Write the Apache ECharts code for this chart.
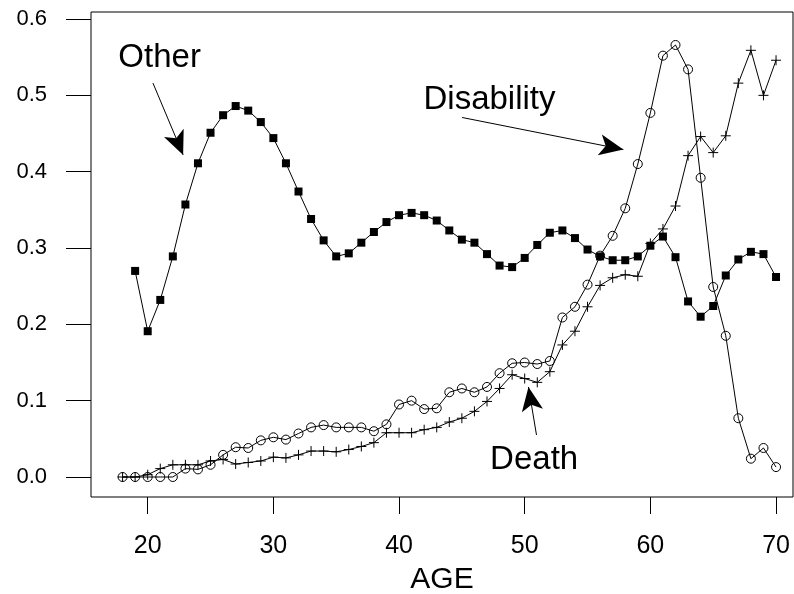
<!DOCTYPE html>
<html>
<head>
<meta charset="utf-8">
<script src="https://cdn.jsdelivr.net/npm/echarts@6/dist/echarts.min.js"></script>
<style>
  html, body { margin: 0; padding: 0; background: #fff; }
  #chart { width: 794px; height: 594px; }
</style>
</head>
<body>
<div id="chart"></div>
<script>
// Proportion of exits by cause, by age
const ages = [];
for (let a = 18; a <= 70; a++) ages.push(a);

// Other (filled squares), ages 19..70
const otherAges = ages.slice(1);
const otherVals = [
  0.270, 0.191, 0.232, 0.289, 0.357, 0.411, 0.451, 0.474, 0.486, 0.480,
  0.465, 0.444, 0.411, 0.374, 0.338, 0.310, 0.289, 0.293, 0.307, 0.321,
  0.334, 0.343, 0.346, 0.343, 0.336, 0.323, 0.311, 0.307, 0.292, 0.277,
  0.275, 0.287, 0.304, 0.320, 0.323, 0.313, 0.298, 0.289, 0.284, 0.284,
  0.289, 0.303, 0.315, 0.288, 0.230, 0.210, 0.224, 0.264, 0.285, 0.295,
  0.292, 0.262
];

// Disability (open circles), ages 18..70
const disabilityVals = [
  0.000, 0.000, 0.000, 0.000, 0.000, 0.011, 0.010, 0.016, 0.029, 0.039,
  0.038, 0.048, 0.052, 0.049, 0.057, 0.065, 0.068, 0.065, 0.065, 0.065,
  0.060, 0.069, 0.095, 0.100, 0.089, 0.090, 0.111, 0.116, 0.111, 0.118,
  0.136, 0.149, 0.150, 0.148, 0.152, 0.209, 0.223, 0.252, 0.290, 0.316,
  0.352, 0.410, 0.477, 0.552, 0.566, 0.534, 0.392, 0.249, 0.185, 0.077,
  0.024, 0.038, 0.013
];

// Death (plus signs), ages 18..70
const deathVals = [
  0.000, 0.000, 0.003, 0.011, 0.016, 0.016, 0.016, 0.021, 0.023, 0.017,
  0.019, 0.021, 0.026, 0.025, 0.029, 0.034, 0.034, 0.033, 0.036, 0.040,
  0.045, 0.058, 0.058, 0.058, 0.062, 0.065, 0.072, 0.077, 0.086, 0.099,
  0.116, 0.134, 0.129, 0.124, 0.138, 0.173, 0.191, 0.223, 0.251, 0.261,
  0.265, 0.263, 0.306, 0.325, 0.355, 0.421, 0.446, 0.425, 0.447, 0.516,
  0.559, 0.500, 0.546
];

const xTicks = [20, 30, 40, 50, 60, 70];
const yTicks = [0, 0.1, 0.2, 0.3, 0.4, 0.5, 0.6];

// Callout labels and their arrows, in data coordinates [age, proportion]
const callouts = [
  { text: 'Other',      at: [20.95, 0.549], from: [20.42, 0.516], to: [22.82, 0.422] },
  { text: 'Disability', at: [47.2, 0.494],  from: [45.02, 0.471], to: [57.85, 0.429] },
  { text: 'Death',      at: [50.75, 0.023], from: [50.94, 0.055], to: [50.30, 0.118] }
];

const pair = (xs, ys) => xs.map((x, i) => [x, ys[i]]);

const FONT = '"Liberation Sans", Arial, sans-serif';
const NARROW = '"Liberation Sans Narrow", "Arial Narrow", "Liberation Sans", sans-serif';

const chart = echarts.init(document.getElementById('chart'), null, { renderer: 'canvas' });

const lineBase = {
  type: 'line',
  smooth: false,
  lineStyle: { color: '#000', width: 1 },
  animation: false,
  emphasis: { disabled: true },
  silent: true
};

chart.setOption({
  backgroundColor: '#fff',
  animation: false,
  grid: {
    left: 91, right: 1, top: 12, bottom: 97,
    containLabel: false,
    outerBoundsMode: 'none',
    show: true, borderColor: '#000', borderWidth: 1, backgroundColor: 'transparent'
  },
  xAxis: {
    type: 'value',
    min: 15.488, max: 71.35,
    splitLine: { show: false },
    axisLine: { show: false, onZero: false },
    axisTick: { show: true, length: 17, lineStyle: { color: '#000', width: 1 }, customValues: xTicks },
    axisLabel: {
      show: true, customValues: xTicks, margin: 37,
      color: '#000', fontSize: 25, fontFamily: NARROW,
      formatter: v => String(v)
    },
    name: 'AGE',
    nameLocation: 'middle',
    nameGap: 68,
    nameTextStyle: { color: '#000', fontSize: 30, fontFamily: NARROW }
  },
  yAxis: {
    type: 'value',
    min: -0.0262, max: 0.6092,
    splitLine: { show: false },
    axisLine: { show: false, onZero: false },
    axisTick: { show: true, length: 25, lineStyle: { color: '#000', width: 1 }, customValues: yTicks },
    axisLabel: {
      show: true, customValues: yTicks, margin: 44,
      color: '#000', fontSize: 22, fontFamily: FONT,
      formatter: v => v.toFixed(1)
    }
  },
  series: [
    Object.assign({}, lineBase, {
      name: 'Other',
      data: pair(otherAges, otherVals),
      symbol: 'rect', symbolSize: 8,
      itemStyle: { color: '#000' }
    }),
    Object.assign({}, lineBase, {
      name: 'Disability',
      data: pair(ages, disabilityVals),
      symbol: 'circle', symbolSize: 9,
      itemStyle: { color: 'rgba(0,0,0,0)', borderColor: '#000', borderWidth: 1 }
    }),
    Object.assign({}, lineBase, {
      name: 'Death',
      data: pair(ages, deathVals),
      symbol: 'path://M5 0 L5 10 M0 5 L10 5', symbolSize: 10,
      itemStyle: { color: 'rgba(0,0,0,0)', borderColor: '#000', borderWidth: 1 }
    }),
    {
      type: 'line',
      name: 'callouts',
      data: [],
      silent: true,
      animation: false,
      markLine: {
        silent: true,
        animation: false,
        symbol: ['none', 'arrow'],
        symbolSize: [16, 24],
        label: { show: false },
        lineStyle: { color: '#000', width: 1, type: 'solid' },
        emphasis: { disabled: true },
        data: callouts.map(c => [{ coord: c.from }, { coord: c.to }])
      },
      markPoint: {
        silent: true,
        animation: false,
        symbol: 'circle',
        symbolSize: 0,
        label: {
          show: true, position: 'inside',
          color: '#000', fontSize: 33, fontFamily: FONT,
          formatter: p => p.name
        },
        data: callouts.map(c => ({ name: c.text, coord: c.at }))
      }
    }
  ]
});
</script>
</body>
</html>
